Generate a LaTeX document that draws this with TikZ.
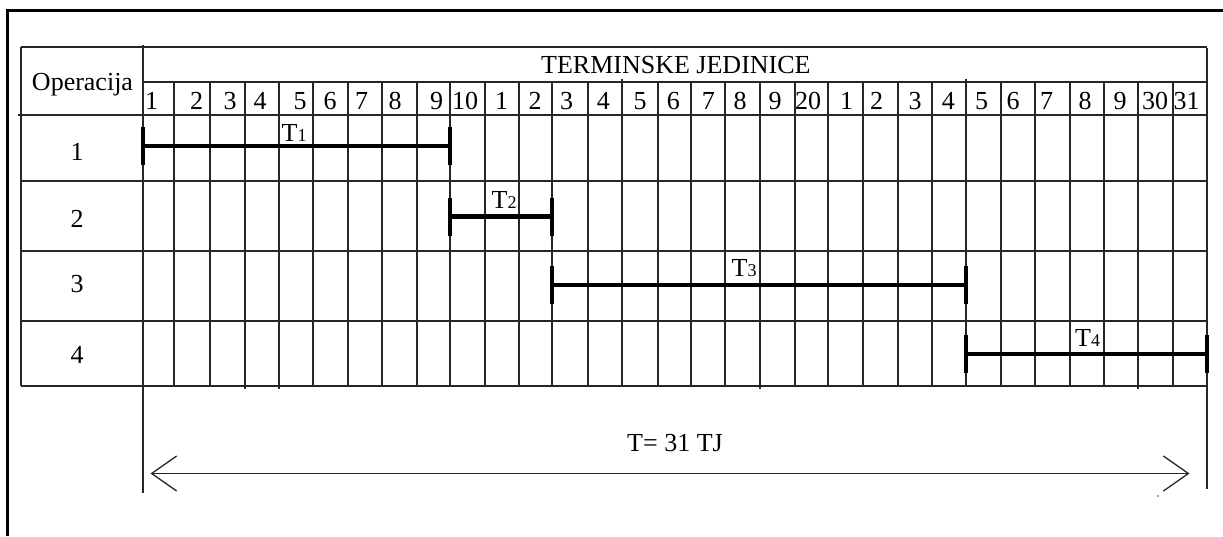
\documentclass[tikz,border=0pt]{standalone}
\usepackage{fontspec}
\setmainfont{Liberation Serif}
\usetikzlibrary{arrows.meta}
\begin{document}
\begin{tikzpicture}[x=1pt,y=-1pt,
  grid/.style={line width=1.2pt,black!85},
  frameline/.style={line width=3pt,black},
  bar/.style={line width=4.5pt,black},
  tick/.style={line width=4.5pt,black},
  lbl/.style={font=\fontsize{26}{30}\selectfont,inner sep=0pt,anchor=base},
  tlbl/.style={font=\fontsize{26}{30}\selectfont,inner sep=0pt,anchor=base west},
  span/.style={line width=1.3pt,black!85,{Straight Barb[length=25pt,width=35pt,line width=1.3pt]}-{Straight Barb[length=25pt,width=35pt,line width=1.3pt]}}]
\useasboundingbox (0,0) rectangle (1223,536);
% outer frame (left and top)
\draw[frameline] (7,536) -- (7,10) -- (1223,10);
% table outline and rows
\draw[grid] (21,47) -- (1207,47);
\draw[grid] (143,82) -- (1207,82);
\foreach \yy in {115,181,251,321,386} \draw[grid] (21,\yy) -- (1207,\yy);
\draw[grid] (18,115) -- (21,115);
\draw[grid] (21,47) -- (21,386);
% columns
\foreach \xx in {174,210,245,279,313,348,382,417,450,485,519,552,588,622,658,691,725,760,795,828,863,898,932,966,1001,1035,1070,1104,1138,1173}
  \draw[grid] (\xx,82) -- (\xx,386);
\draw[grid] (622,79) -- (622,82);
\draw[grid] (966,79) -- (966,82);
\foreach \xx in {245,279,760,1138} \draw[grid] (\xx,386) -- (\xx,389);
\draw[grid] (143,45) -- (143,493);
\draw[grid] (1207,48) -- (1207,489);
% header texts
\node[lbl] (op) at (82.5,90) {Operacija};
\node[tlbl] (tj) at (541,73.5) {TERMINSKE JEDINICE};
\foreach \xx/\t [count=\i] in {151.7/1,196.7/2,230/3,260/4,300/5,330/6,361.7/7,395/8,436.7/9,465/10,501.7/1,535/2,566.7/3,603.3/4,640/5,673.3/6,708.3/7,740/8,775/9,808/20,846.7/1,876.7/2,915/3,948.3/4,981.7/5,1013/6,1046.7/7,1085/8,1120/9,1155/30,1186.7/31}
  \node[lbl] (h\i) at (\xx,109) {\t};
% row labels
\node[lbl] (r1) at (77,160) {1};
\node[lbl] (r2) at (77,227) {2};
\node[lbl] (r3) at (77,292) {3};
\node[lbl] (r4) at (77,363) {4};
% bars
\coordinate (a1) at (143,146); \coordinate (b1) at (450,146);
\coordinate (a2) at (450,216.5); \coordinate (b2) at (552,216.5);
\coordinate (a3) at (552,285); \coordinate (b3) at (966,285);
\coordinate (a4) at (966,354); \coordinate (b4) at (1207,354);
\foreach \k in {1,2,3,4}{
  \draw[bar] (a\k) -- (b\k);
  \draw[tick] ([yshift=-19pt]a\k) -- ([yshift=19pt]a\k);
  \draw[tick] ([yshift=-19pt]b\k) -- ([yshift=19pt]b\k);
}
\node[tlbl] (t1) at (281.5,141.5) {T{\fontsize{18}{18}\selectfont 1}};
\node[tlbl] (t2) at (491.5,208) {T{\fontsize{18}{18}\selectfont 2}};
\node[tlbl] (t3) at (731.5,276.5) {T{\fontsize{18}{18}\selectfont 3}};
\node[tlbl] (t4) at (1075,346.5) {T{\fontsize{18}{18}\selectfont 4}};
% total span
\coordinate (s1) at (150.5,473.5);
\coordinate (s2) at (1189.5,473.5);
\draw[span] (s1) -- (s2);
\node[lbl] (tot) at (675,451.5) {T= 31 TJ};
\fill[black!70] (1158,496) circle (0.8);
\end{tikzpicture}
\end{document}
